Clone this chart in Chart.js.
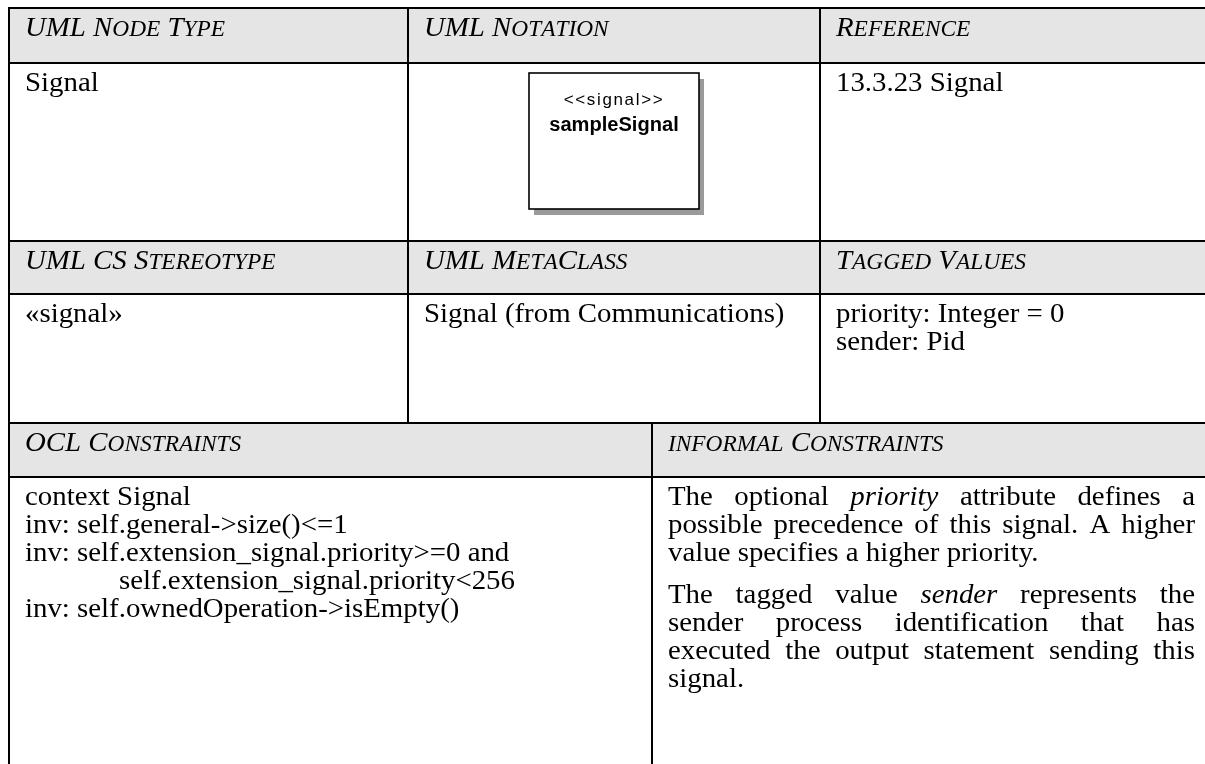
<!DOCTYPE html>
<html lang="en">
<head>
<meta charset="UTF-8">
<title>UML Signal</title>
<style>
  html, body { margin: 0; padding: 0; background: #fff; }
  canvas { display: block; }
  .preload { position: absolute; left: -9999px; top: 0; }
</style>
</head>
<body>
<canvas id="tableChart" width="1205" height="764"></canvas>
<div class="preload">
  <span style="font-family:'Liberation Serif'">Signal</span>
  <span style="font-family:'Liberation Serif';font-style:italic">Signal</span>
  <span style="font-family:'Liberation Sans'">signal</span>
  <span style="font-family:'Liberation Sans';font-weight:bold">signal</span>
</div>

<script src="https://cdn.jsdelivr.net/npm/chart.js"></script>
<script>
// table content
const topHeaders = ['UML Node Type', 'UML Notation', 'Reference'];
const topValues = [['Signal'], [], ['13.3.23 Signal']];
const notationStereotype = '<<signal>>';
const notationName = 'sampleSignal';

const midHeaders = ['UML CS Stereotype', 'UML MetaClass', 'Tagged Values'];
const midValues = [['«signal»'], ['Signal (from Communications)'], ['priority: Integer = 0', 'sender: Pid']];

const lowHeaders = ['OCL Constraints', 'informal Constraints'];
const oclLines = [
    'context Signal',
    'inv: self.general->size()<=1',
    'inv: self.extension_signal.priority>=0 and',
    '\tself.extension_signal.priority<256',
    'inv: self.ownedOperation->isEmpty()'
];
// *word* = italic; last line of each paragraph is not justified
const informalParagraphs = [
    ['The optional *priority* attribute defines a',
     'possible precedence of this signal. A higher',
     'value specifies a higher priority.'],
    ['The tagged value *sender* represents the',
     'sender process identification that has',
     'executed the output statement sending this',
     'signal.']
];

// layout (page units, mapped through the chart scales)
const colsTop = [9, 408, 820, 1212];
const colsLow = [9, 652, 1212];
const rows = [8, 63, 241, 294, 423, 477, 800];
const pad = 16, baseOff = 28, lineGap = 28, paraGap = 14, tabIndent = 94;
const serif = '"Liberation Serif", "Times New Roman", serif';
const sans = '"Liberation Sans", Arial, sans-serif';
const fontPx = 28, stretch = 1.03, smallCap = 0.81;

function txt(ctx, s, x, y, font) {
    ctx.save();
    ctx.translate(x, y);
    ctx.scale(stretch, 1);
    ctx.font = font;
    ctx.fillText(s, 0, 0);
    ctx.restore();
}
function txtWidth(ctx, s, font) {
    ctx.font = font;
    return ctx.measureText(s).width * stretch;
}

function smallCaps(ctx, s, x, y) {
    let cx = x;
    for (const ch of s) {
        const low = ch !== ch.toUpperCase();
        const f = 'italic ' + (low ? fontPx * smallCap : fontPx) + 'px ' + serif;
        const c = ch.toUpperCase();
        txt(ctx, c, cx, y, f);
        cx += txtWidth(ctx, c, f);
    }
}

function wordFont(w) {
    return (w.startsWith('*') ? 'italic ' : '') + fontPx + 'px ' + serif;
}

const tablePlugin = {
    id: 'tablePlugin',
    afterDraw(chart) {
        const ctx = chart.ctx;
        const X = v => chart.scales.x.getPixelForValue(v);
        const Y = v => chart.scales.y.getPixelForValue(v);
        const body = fontPx + 'px ' + serif;

        ctx.save();
        ctx.fillStyle = '#fff';
        ctx.fillRect(0, 0, chart.width, chart.height);

        // header shading
        ctx.fillStyle = '#e5e5e5';
        [0, 2, 4].forEach(i => {
            ctx.fillRect(X(colsTop[0]), Y(rows[i]), X(colsTop[3]) - X(colsTop[0]), Y(rows[i + 1]) - Y(rows[i]));
        });

        ctx.fillStyle = '#000';
        ctx.textBaseline = 'alphabetic';

        topHeaders.forEach((h, i) => smallCaps(ctx, h, X(colsTop[i] + pad), Y(rows[0] + baseOff)));
        midHeaders.forEach((h, i) => smallCaps(ctx, h, X(colsTop[i] + pad), Y(rows[2] + baseOff)));
        lowHeaders.forEach((h, i) => smallCaps(ctx, h, X(colsLow[i] + pad), Y(rows[4] + baseOff)));

        topValues.forEach((lines, i) => lines.forEach((s, k) =>
            txt(ctx, s, X(colsTop[i] + pad), Y(rows[1] + baseOff + k * lineGap), body)));
        midValues.forEach((lines, i) => lines.forEach((s, k) =>
            txt(ctx, s, X(colsTop[i] + pad), Y(rows[3] + baseOff + k * lineGap), body)));

        oclLines.forEach((s, k) => {
            const ind = s.startsWith('\t') ? tabIndent : 0;
            txt(ctx, s.replace('\t', ''), X(colsLow[0] + pad + ind), Y(rows[5] + baseOff + k * lineGap), body);
        });

        // justified paragraphs
        const left = colsLow[1] + pad, right = colsLow[2] - pad - 1;
        let y = rows[5] + baseOff;
        informalParagraphs.forEach(par => {
            par.forEach((line, k) => {
                const words = line.split(' ');
                const widths = words.map(w => txtWidth(ctx, w.replace(/\*/g, ''), wordFont(w)));
                const total = widths.reduce((a, b) => a + b, 0);
                const last = k === par.length - 1;
                const gap = last || words.length < 2 ? txtWidth(ctx, ' ', body)
                    : (X(right) - X(left) - total) / (words.length - 1);
                let cx = X(left);
                words.forEach((w, j) => {
                    txt(ctx, w.replace(/\*/g, ''), cx, Y(y), wordFont(w));
                    cx += widths[j] + gap;
                });
                y += lineGap;
            });
            y += paraGap;
        });

        // notation symbol
        const bx0 = X(529), bx1 = X(699), by0 = Y(73), by1 = Y(209);
        ctx.fillStyle = '#9a9a9a';
        ctx.fillRect(bx0 + 5, by0 + 6, bx1 - bx0, by1 - by0);
        ctx.fillStyle = '#fff';
        ctx.fillRect(bx0, by0, bx1 - bx0, by1 - by0);
        ctx.strokeStyle = '#000';
        ctx.lineWidth = 1.6;
        ctx.strokeRect(bx0, by0, bx1 - bx0, by1 - by0);
        ctx.fillStyle = '#000';
        const mid = (bx0 + bx1) / 2;
        const f1 = '16.5px ' + sans, f2 = 'bold 19.5px ' + sans;
        ctx.letterSpacing = '1.6px';
        txt(ctx, notationStereotype, mid - txtWidth(ctx, notationStereotype, f1) / 2, Y(105), f1);
        ctx.letterSpacing = '0px';
        txt(ctx, notationName, mid - txtWidth(ctx, notationName, f2) / 2, Y(131), f2);

        // grid lines
        ctx.strokeStyle = '#000';
        ctx.lineWidth = 2;
        ctx.beginPath();
        rows.slice(0, 6).forEach(r => {
            ctx.moveTo(X(colsTop[0]) - 1, Y(r));
            ctx.lineTo(X(colsTop[3]), Y(r));
        });
        colsTop.forEach(c => {
            ctx.moveTo(X(c), Y(rows[0]) - 1);
            ctx.lineTo(X(c), Y(rows[4]));
        });
        colsLow.forEach(c => {
            ctx.moveTo(X(c), Y(rows[4]));
            ctx.lineTo(X(c), Y(rows[6]));
        });
        ctx.stroke();
        ctx.restore();
    }
};

function buildChart() {
    new Chart(document.getElementById('tableChart'), {
        type: 'scatter',
        data: { datasets: [] },
        options: {
            responsive: false,
            animation: false,
            layout: { padding: 0 },
            plugins: { legend: { display: false }, tooltip: { enabled: false } },
            scales: {
                x: { type: 'linear', min: 0, max: 1205, display: false },
                y: { type: 'linear', min: 0, max: 764, reverse: true, display: false }
            }
        },
        plugins: [tablePlugin]
    });
}

Promise.all([
    document.fonts.load('26px "Liberation Serif"'),
    document.fonts.load('italic 26px "Liberation Serif"'),
    document.fonts.load('16px "Liberation Sans"'),
    document.fonts.load('bold 17px "Liberation Sans"')
]).then(buildChart, buildChart);
</script>
</body>
</html>
